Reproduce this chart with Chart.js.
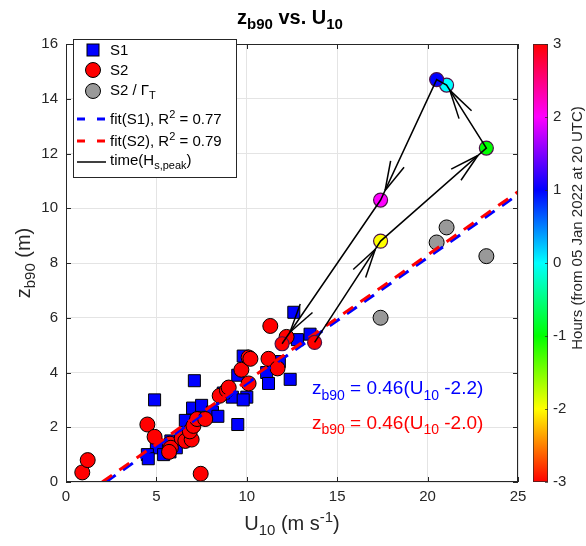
<!DOCTYPE html>
<html>
<head>
<meta charset="utf-8">
<script src="https://cdn.jsdelivr.net/npm/chart.js@4.4.1/dist/chart.umd.min.js"></script>
<style>
  body { margin: 0; background: #fff; }
  canvas { display: block; }
</style>
</head>
<body>
<canvas id="zChart" width="586" height="546"></canvas>
<script>
const FONT = '"Liberation Sans", Arial, Helvetica, sans-serif';
const INK = '#262626';

// S1 (blue squares)
const s1U = [12.6, 13.5, 12.8, 9.8, 11.8, 9.5, 11.1, 11.2, 12.4, 10.0, 9.2, 7.1, 4.9, 7.0,
             7.5, 8.1, 8.4, 6.6, 9.5, 5.8, 5.0, 4.5, 4.55, 5.4, 6.1, 5.75, 8.7, 9.8];
const s1Z = [6.2, 5.4, 5.2, 4.6, 4.4, 3.9, 4.0, 3.6, 3.75, 3.1, 3.1, 3.7, 3.0, 2.7,
             2.8, 2.55, 2.4, 2.25, 2.1, 1.5, 1.25, 1.0, 0.85, 1.0, 1.25, 1.1, 3.25, 3.0];

// S2 (red circles)
const s2U = [0.9, 1.2, 4.5, 4.9, 5.75, 5.8, 5.7, 6.4, 6.6, 6.95, 6.85, 7.05, 7.25, 7.7,
             7.45, 8.5, 8.9, 9.0, 9.7, 10.1, 10.2, 11.2, 11.7, 10.1, 11.3, 12.2];
const s2Z = [0.35, 0.8, 2.1, 1.65, 1.4, 1.25, 1.1, 1.6, 1.5, 1.55, 1.85, 2.05, 2.3, 2.3,
             0.3, 3.15, 3.35, 3.45, 4.1, 4.55, 4.5, 4.5, 4.15, 3.6, 5.7, 5.3];

// S2 / Gamma_T (grey circles)
const grayU = [17.4, 20.5, 21.05, 23.25];
const grayZ = [6.0, 8.75, 9.3, 8.25];

// time around H_s peak
const peakHours = [-3, -2, -1, 0, 1, 2, 3];
const peakU = [13.75, 17.4, 23.25, 21.05, 20.5, 17.4, 11.95];
const peakZ = [5.1, 8.8, 12.2, 14.5, 14.7, 10.3, 5.05];

// fit lines
const fitS1U = [2.2, 25];
const fitS1Z = [0, 10.5];
const fitS2U = [2.0, 25];
const fitS2Z = [0, 10.6];

const xTicks = [0, 5, 10, 15, 20, 25];
const yTicks = [0, 2, 4, 6, 8, 10, 12, 14, 16];
const hourTicks = [-3, -2, -1, 0, 1, 2, 3];

const pts = (xs, ys) => xs.map((x, i) => ({x: x, y: ys[i]}));
const hourColor = h => 'hsl(' + ((h + 3) * 60) + ',100%,50%)';

function richText(c, parts, x, y, size, opts) {
  opts = opts || {};
  const bold = opts.bold ? 'bold ' : '';
  const small = Math.round(size * 0.75);
  let w = 0;
  const segs = parts.map(p => {
    const fs = p[1] ? small : size;
    c.font = bold + fs + 'px ' + FONT;
    const sw = c.measureText(p[0]).width;
    w += sw;
    return {t: p[0], k: p[1], fs: fs, sw: sw};
  });
  let cx = opts.align === 'center' ? x - w / 2 : x;
  c.textAlign = 'left';
  c.textBaseline = 'alphabetic';
  segs.forEach(s => {
    c.font = bold + s.fs + 'px ' + FONT;
    const dy = s.k === 'sub' ? size * 0.27 : s.k === 'sup' ? -size * 0.42 : 0;
    c.fillText(s.t, cx, y + dy);
    cx += s.sw;
  });
}

function rotText(c, parts, x, y, size) {
  c.save();
  c.translate(x, y);
  c.rotate(-Math.PI / 2);
  richText(c, parts, 0, 0, size, {align: 'center'});
  c.restore();
}

const decor = {
  id: 'decor',
  afterDatasetsDraw(chart) {
    const c = chart.ctx;
    const a = chart.chartArea;
    const sx = chart.scales.x, sy = chart.scales.y, yc = chart.scales.yc;

    // arrow heads on the time path
    const tp = chart.getDatasetMeta(6).data;
    c.save();
    c.strokeStyle = '#000';
    c.lineWidth = 1.5;
    for (let i = 0; i < tp.length - 1; i++) {
      const p0 = tp[i], p1 = tp[i + 1];
      const dx = p1.x - p0.x, dy = p1.y - p0.y;
      const len = Math.hypot(dx, dy);
      if (len < 30) continue;
      const tx = p0.x + dx * 0.92, ty = p0.y + dy * 0.92;
      const th = Math.atan2(dy, dx);
      [0.25, -0.25].forEach(da => {
        c.beginPath();
        c.moveTo(tx, ty);
        c.lineTo(tx - 30 * Math.cos(th + da), ty - 30 * Math.sin(th + da));
        c.stroke();
      });
    }
    c.restore();

    // axes box and inward ticks
    c.save();
    c.strokeStyle = INK;
    c.lineWidth = 1;
    c.strokeRect(a.left + 0.5, a.top + 0.5, a.right - a.left - 1, a.bottom - a.top - 1);
    c.beginPath();
    xTicks.forEach(v => {
      const px = Math.round(sx.getPixelForValue(v)) + 0.5;
      c.moveTo(px, a.bottom); c.lineTo(px, a.bottom - 5);
      c.moveTo(px, a.top); c.lineTo(px, a.top + 5);
    });
    yTicks.forEach(v => {
      const py = Math.round(sy.getPixelForValue(v)) + 0.5;
      c.moveTo(a.left, py); c.lineTo(a.left + 5, py);
      c.moveTo(a.right, py); c.lineTo(a.right - 5, py);
    });
    c.stroke();
    c.restore();

    // colorbar
    const cbL = a.right + 15, cbW = 15;
    const cTop = yc.getPixelForValue(3), cBot = yc.getPixelForValue(-3);
    const g = c.createLinearGradient(0, cBot, 0, cTop);
    hourTicks.forEach(h => g.addColorStop((h + 3) / 6, hourColor(h)));
    c.save();
    c.fillStyle = g;
    c.fillRect(cbL, cTop, cbW, cBot - cTop);
    c.strokeStyle = 'rgba(38,38,38,0.7)';
    c.lineWidth = 1;
    c.strokeRect(cbL + 0.5, cTop + 0.5, cbW - 1, cBot - cTop - 1);
    c.beginPath();
    hourTicks.forEach(h => {
      const py = Math.round(yc.getPixelForValue(h)) + 0.5;
      c.moveTo(cbL + cbW, py); c.lineTo(cbL + cbW - 3, py);
    });
    c.stroke();
    c.restore();

    // legend
    c.save();
    const lx = 73, ly = 39, lw = 163, lh = 138;
    c.fillStyle = '#fff';
    c.fillRect(lx, ly, lw, lh);
    c.strokeStyle = INK;
    c.lineWidth = 1;
    c.strokeRect(lx + 0.5, ly + 0.5, lw, lh);
    const mx = 93, tx = 110;
    c.lineWidth = 1;
    c.strokeStyle = '#000';
    c.fillStyle = '#0000ff';
    c.fillRect(mx - 6, 50 - 6, 12, 12);
    c.strokeRect(mx - 6, 50 - 6, 12, 12);
    [[70, '#ff0000'], [91, '#999999']].forEach(r => {
      c.beginPath();
      c.arc(mx, r[0], 7.5, 0, Math.PI * 2);
      c.fillStyle = r[1];
      c.fill();
      c.stroke();
    });
    c.lineWidth = 3;
    [[119, '#0000ff'], [141, '#ff0000']].forEach(r => {
      c.strokeStyle = r[1];
      c.beginPath();
      c.moveTo(77, r[0]); c.lineTo(85, r[0]);
      c.moveTo(97, r[0]); c.lineTo(105, r[0]);
      c.stroke();
    });
    c.strokeStyle = '#000';
    c.lineWidth = 1.5;
    c.beginPath();
    c.moveTo(77, 162); c.lineTo(106, 162);
    c.stroke();
    c.fillStyle = '#000';
    const fs = 15;
    richText(c, [['S1']], tx, 55, fs);
    richText(c, [['S2']], tx, 75, fs);
    richText(c, [['S2 / \u0393'], ['T', 'sub']], tx, 95, fs);
    richText(c, [['fit(S1), R'], ['2', 'sup'], [' = 0.77']], tx, 124, fs);
    richText(c, [['fit(S2), R'], ['2', 'sup'], [' = 0.79']], tx, 146, fs);
    richText(c, [['time(H'], ['s,peak', 'sub'], [')']], tx, 165, fs);
    c.restore();

    // texts
    c.save();
    c.fillStyle = '#0000ff';
    richText(c, [['z'], ['b90', 'sub'], [' = 0.46(U'], ['10', 'sub'], [' -2.2)']],
             sx.getPixelForValue(13.6), sy.getPixelForValue(3.2), 19);
    c.fillStyle = '#ff0000';
    richText(c, [['z'], ['b90', 'sub'], [' = 0.46(U'], ['10', 'sub'], [' -2.0)']],
             sx.getPixelForValue(13.6), sy.getPixelForValue(1.95), 19);
    c.fillStyle = '#000';
    const cx = (a.left + a.right) / 2, cy = (a.top + a.bottom) / 2;
    richText(c, [['z'], ['b90', 'sub'], [' vs. U'], ['10', 'sub']], cx - 2, 24, 20, {bold: true, align: 'center'});
    c.fillStyle = INK;
    richText(c, [['U'], ['10', 'sub'], [' (m s'], ['-1', 'sup'], [')']], cx, 530, 20, {align: 'center'});
    rotText(c, [['z'], ['b90', 'sub'], [' (m)']], 30, cy, 20);
    rotText(c, [['Hours (from 05 Jan 2022 at 20 UTC)']], 582, 228, 15);
    c.restore();
  }
};

const chart = new Chart(document.getElementById('zChart'), {
  type: 'scatter',
  data: {
    datasets: [
      {
        label: 'S1', order: 7,
        data: pts(s1U, s1Z),
        pointStyle: 'rect', pointRadius: 8.5,
        backgroundColor: '#0000ff', borderColor: '#000', borderWidth: 1
      },
      {
        label: 'S2', order: 6,
        data: pts(s2U, s2Z),
        pointRadius: 7.5,
        backgroundColor: '#ff0000', borderColor: '#000', borderWidth: 1
      },
      {
        label: 'S2 / Gamma_T', order: 5,
        data: pts(grayU, grayZ),
        pointRadius: 7.5,
        backgroundColor: '#999999', borderColor: '#000', borderWidth: 1
      },
      {
        label: 'fit(S1)', order: 4,
        data: pts(fitS1U, fitS1Z),
        showLine: true, pointRadius: 0,
        borderColor: '#0000ff', borderWidth: 3, borderDash: [12, 9]
      },
      {
        label: 'fit(S2)', order: 3,
        data: pts(fitS2U, fitS2Z),
        showLine: true, pointRadius: 0,
        borderColor: '#ff0000', borderWidth: 3, borderDash: [12, 9]
      },
      {
        label: 'hours', order: 2,
        data: pts(peakU, peakZ),
        pointRadius: 7,
        backgroundColor: peakHours.map(hourColor),
        borderColor: '#4b1248', borderWidth: 1.2
      },
      {
        label: 'time(Hs,peak)', order: 1,
        data: pts(peakU, peakZ),
        showLine: true, pointRadius: 0,
        borderColor: '#000', borderWidth: 1.5
      }
    ]
  },
  options: {
    responsive: false,
    animation: false,
    events: [],
    layout: {padding: {top: 31, left: 0, right: 0, bottom: 0}},
    plugins: {legend: {display: false}, tooltip: {enabled: false}},
    scales: {
      x: {
        type: 'linear', min: 0, max: 25,
        afterBuildTicks: s => { s.ticks = xTicks.map(v => ({value: v})); },
        afterFit: s => { s.height = 64; },
        grid: {color: '#e4e4e4', drawTicks: false},
        border: {display: false},
        ticks: {color: INK, padding: 6, font: {family: FONT, size: 15}}
      },
      y: {
        type: 'linear', min: 0, max: 16,
        afterBuildTicks: s => { s.ticks = yTicks.map(v => ({value: v})); },
        afterFit: s => { s.width = 66; },
        grid: {color: '#e4e4e4', drawTicks: false},
        border: {display: false},
        ticks: {color: INK, padding: 8, font: {family: FONT, size: 15}}
      },
      yc: {
        type: 'linear', position: 'right', min: -3, max: 3,
        afterBuildTicks: s => { s.ticks = hourTicks.map(v => ({value: v})); },
        afterFit: s => { s.width = 68; },
        grid: {display: false, drawTicks: false},
        border: {display: false},
        ticks: {color: INK, padding: 35, font: {family: FONT, size: 15}}
      }
    }
  },
  plugins: [decor]
});
</script>
</body>
</html>
